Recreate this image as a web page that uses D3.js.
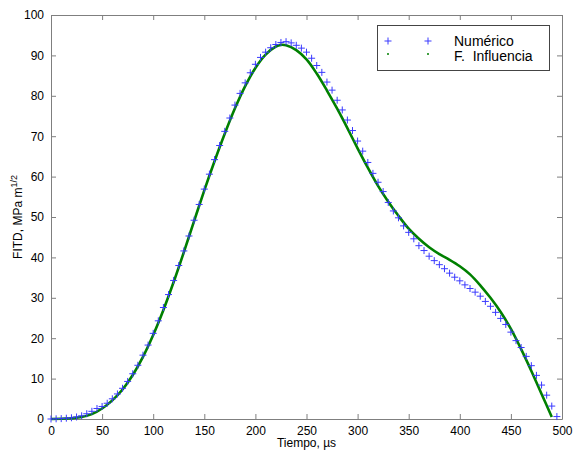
<!DOCTYPE html>
<html>
<head>
<meta charset="utf-8">
<script src="https://cdn.jsdelivr.net/npm/d3@7"></script>
<style>
  body { margin: 0; background: #fff; }
  svg { font-family: "Liberation Sans", Arial, sans-serif; }
</style>
</head>
<body>
<svg id="chart" width="580" height="452"></svg>
<script>
// Numerico: one point every 5 us, from 0 to 495
const numTime = d3.range(0, 500, 5);
const numValues = [
  0.0, 0.05, 0.1, 0.2, 0.3, 0.5, 0.8, 1.3, 1.9, 2.6,
  3.1, 3.9, 5.0, 6.2, 7.6, 9.3, 11.2, 13.3, 15.8, 18.3,
  21.2, 24.3, 27.6, 30.8, 34.3, 38.0, 41.6, 45.3, 49.2, 53.1,
  56.9, 60.6, 64.2, 67.7, 71.2, 74.5, 77.7, 80.6, 83.2, 85.7,
  87.8, 89.5, 90.8, 91.9, 92.7, 93.2, 93.4, 93.1, 92.5, 91.8,
  90.8, 89.3, 87.5, 85.8, 83.4, 81.4, 78.9, 76.5, 74.0, 71.4,
  68.8, 66.3, 63.5, 60.8, 58.6, 56.3, 53.6, 51.5, 49.8, 47.8,
  46.2, 44.6, 42.9, 41.7, 40.3, 39.2, 38.2, 37.2, 36.1, 35.1,
  34.2, 33.2, 32.3, 31.4, 30.4, 29.1, 27.9, 26.4, 24.9, 23.4,
  21.5, 19.4, 17.7, 15.5, 13.2, 10.8, 8.4, 5.9, 3.2, 0.6
];

// F. Influencia
const infTime = [0, 10, 20, 30, 40, 50, 60, 70, 80, 90, 100, 110, 120, 130, 140, 150,
  160, 170, 180, 190, 200, 210, 220, 225, 230, 240, 250, 260, 270, 280, 290, 300,
  310, 320, 330, 340, 350, 360, 370, 380, 390, 400, 410, 420, 430, 440, 450, 460,
  470, 480, 490];
const infValues = [0, 0.05, 0.2, 0.5, 1.2, 2.6, 4.6, 7.3, 10.9, 15.4, 20.8, 27.0, 33.9, 41.3, 49.0, 56.6,
  63.8, 70.6, 76.9, 82.4, 86.9, 90.2, 92.2, 92.6, 92.5, 91.3, 89.0, 85.5, 81.3, 76.8, 72.0, 67.0,
  62.2, 57.7, 53.8, 50.3, 47.1, 44.6, 42.5, 40.8, 39.4, 37.8, 35.8, 33.1, 30.0, 26.5, 22.3, 17.3,
  11.9, 6.2, 0.5];

const xTicks = [0, 50, 100, 150, 200, 250, 300, 350, 400, 450, 500];
const yTicks = [0, 10, 20, 30, 40, 50, 60, 70, 80, 90, 100];

const plotLeft = 51, plotRight = 562, plotTop = 15, plotBottom = 419;
const axisColor = "#7f7f7f";

const svg = d3.select("#chart");

const x = d3.scaleLinear().domain([0, 500]).range([plotLeft, plotRight]);
const y = d3.scaleLinear().domain([0, 100]).range([plotBottom, plotTop]);

// axes (ticks inward, box on)
const gx = svg.append("g").attr("transform", `translate(0,${plotBottom})`)
  .call(d3.axisBottom(x).tickValues(xTicks).tickSizeInner(-5).tickSizeOuter(0).tickPadding(7));
const gxTop = svg.append("g").attr("transform", `translate(0,${plotTop})`)
  .call(d3.axisTop(x).tickValues(xTicks).tickSizeInner(-5).tickSizeOuter(0).tickFormat(""));
const gy = svg.append("g").attr("transform", `translate(${plotLeft},0)`)
  .call(d3.axisLeft(y).tickValues(yTicks).tickSizeInner(-5).tickSizeOuter(0).tickPadding(7));
const gyRight = svg.append("g").attr("transform", `translate(${plotRight},0)`)
  .call(d3.axisRight(y).tickValues(yTicks).tickSizeInner(-5).tickSizeOuter(0).tickFormat(""));

[gx, gxTop, gy, gyRight].forEach(g => {
  g.select(".domain").attr("stroke", axisColor);
  g.selectAll(".tick line").attr("stroke", axisColor);
  g.selectAll(".tick text").attr("fill", "#000").style("font-size", "12px")
    .style("font-family", "'Liberation Sans', Arial, sans-serif");
});

// F. Influencia curve
const line = d3.line()
  .x((d, i) => x(infTime[i]))
  .y(d => y(d))
  .curve(d3.curveCatmullRom);

svg.append("path")
  .datum(infValues)
  .attr("d", line)
  .attr("fill", "none")
  .attr("stroke", "#008000")
  .attr("stroke-width", 2.6);

// Numerico markers
svg.append("g").selectAll("path")
  .data(numValues)
  .join("path")
  .attr("d", "M-3.5,0H3.5M0,-3.5V3.5")
  .attr("transform", (d, i) => `translate(${x(numTime[i])},${y(d)})`)
  .attr("fill", "none")
  .attr("stroke", "#3a3aff")
  .attr("stroke-width", 1);

// legend
const lg = svg.append("g");
lg.append("rect")
  .attr("x", 377.5).attr("y", 25.5).attr("width", 172).attr("height", 45)
  .attr("fill", "#fff").attr("stroke", "#444");
[388, 428].forEach(px => {
  lg.append("path").attr("d", `M${px - 3.5},41H${px + 3.5}M${px},37.5V44.5`)
    .attr("stroke", "#3a3aff").attr("fill", "none");
  lg.append("circle").attr("cx", px).attr("cy", 54).attr("r", 1)
    .attr("fill", "#008000");
});
lg.append("text").attr("x", 454).attr("y", 46).text("Numérico")
  .style("font-size", "14px");
lg.append("text").attr("x", 454).attr("y", 60.5).attr("xml:space", "preserve").text("F.  Influencia")
  .style("font-size", "14px");

// axis labels
svg.append("text").attr("x", (plotLeft + plotRight) / 2).attr("y", 447)
  .attr("text-anchor", "middle").style("font-size", "12px")
  .text("Tiempo, µs");

const yl = svg.append("text")
  .attr("transform", `translate(22,${(plotTop + plotBottom) / 2}) rotate(-90)`)
  .attr("text-anchor", "middle").style("font-size", "12px");
yl.append("tspan").text("FITD, MPa m");
yl.append("tspan").attr("dy", -5).style("font-size", "9px").text("1/2");
</script>
</body>
</html>
